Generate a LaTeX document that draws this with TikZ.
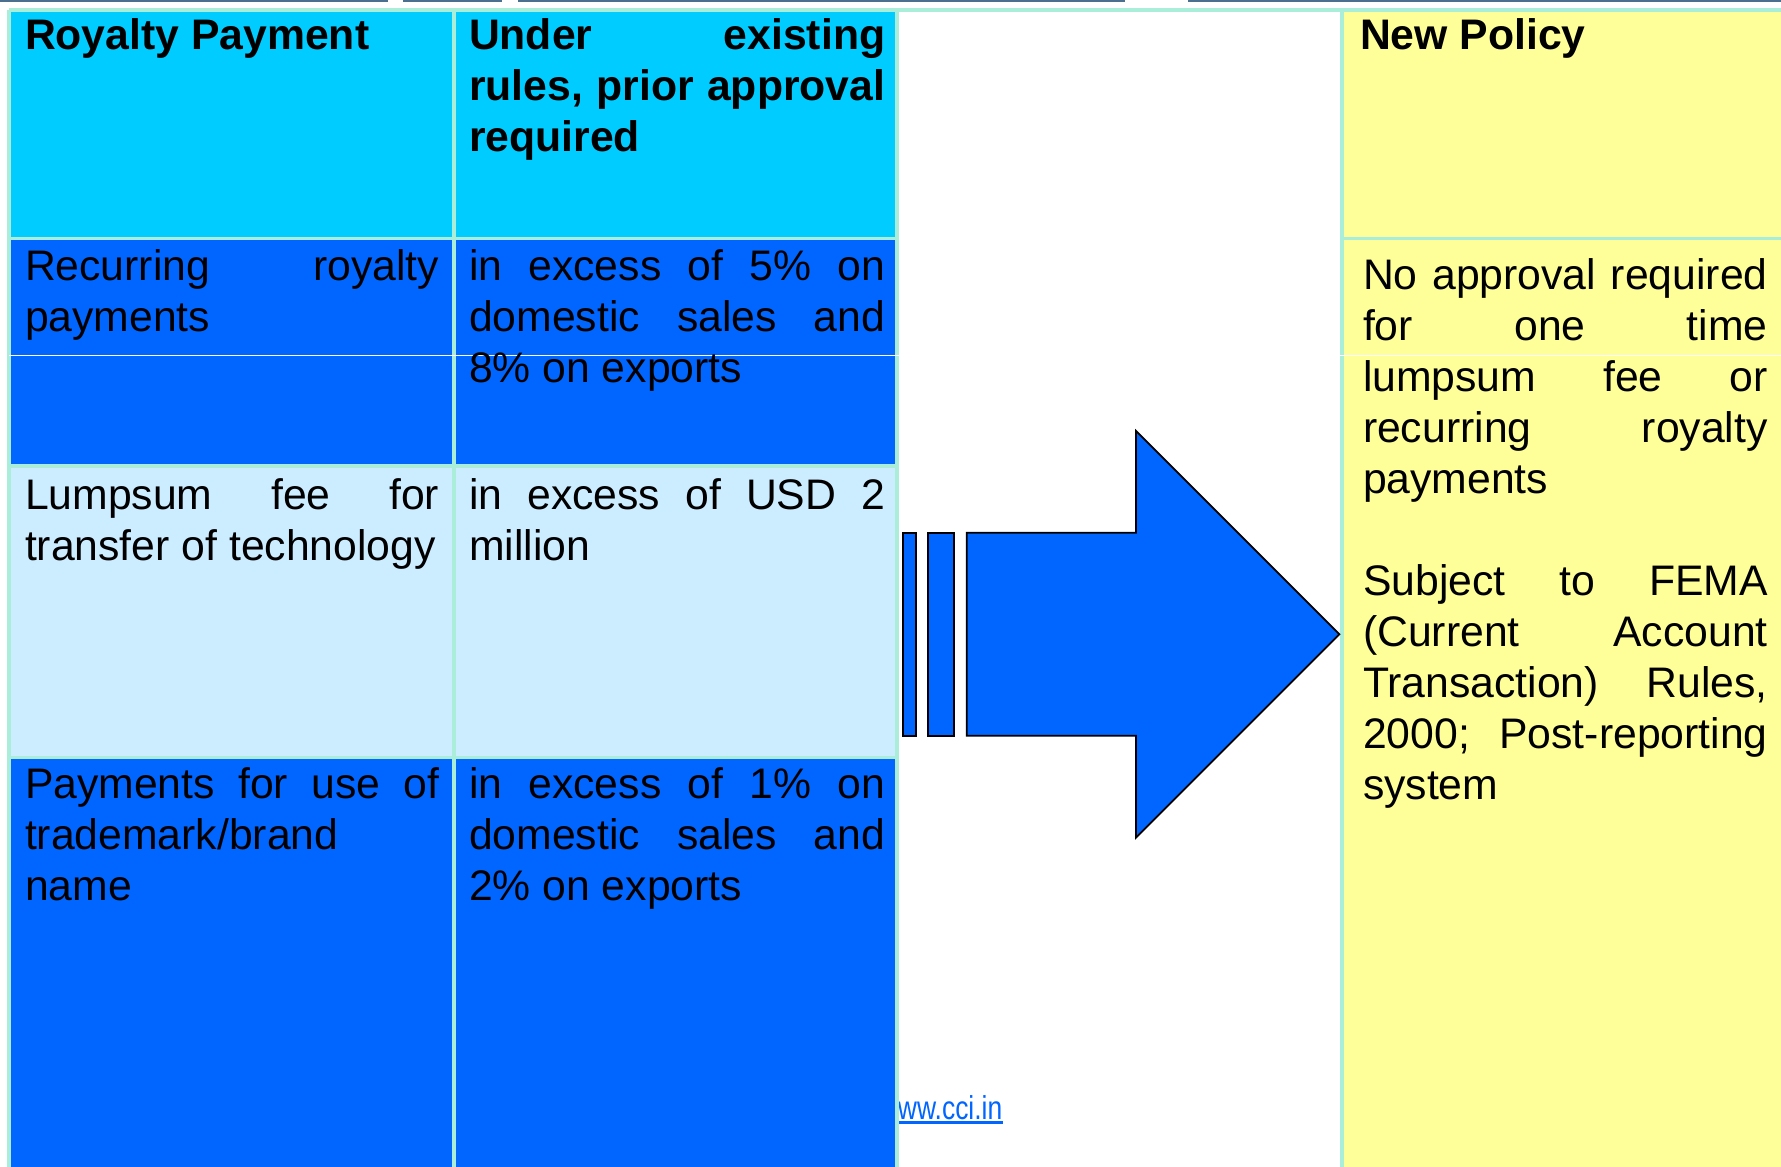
\documentclass[tikz,border=0pt]{standalone}
\usepackage{fontspec}
\setmainfont{Liberation Sans}
\usepackage{graphicx}
\usetikzlibrary{calc}

\definecolor{headcyan}{HTML}{00CCFF}
\definecolor{rowblue}{HTML}{0066FF}
\definecolor{rowpale}{HTML}{CCECFF}
\definecolor{policyyellow}{HTML}{FFFF99}
\definecolor{gridmint}{HTML}{AAEED9}
\definecolor{topslate}{HTML}{4A6F8F}

\def\cellfill[#1](#2)(#3){\fill[#1] (#2) rectangle (#3);}
\newcommand\celltext{\fontsize{12.15}{14.5}\selectfont\hyphenpenalty=10000\exhyphenpenalty=10000\tolerance=10000\relax}

\tikzset{
  grid line/.style={gridmint, line width=0.9pt},
  arrow part/.style={fill=rowblue, draw=black, line width=0.5pt},
  cell text/.style={anchor=north west, inner sep=0pt, align=justify, font=\celltext, execute at begin node=\strut},
}

\begin{document}
\begin{tikzpicture}[x=0.01cm, y=-0.01cm]
		%%%%% START %%%%%
		\useasboundingbox (0,0) rectangle (1781,1167);
		
		\draw[topslate, line width=0.7pt] (0,1) -- (388,1) (403,1) -- (502,1) (518,1) -- (1125,1) (1188,1) -- (1781,1);
		
		% web address, half hidden behind the table
		\node[anchor=base east, inner sep=0pt, text=rowblue, font=\fontsize{9.4}{11}\selectfont] (link) at (1003,1119) {\scalebox{0.8}[1]{www.cci.in}};
		\draw[rowblue, line width=0.7pt] ($(link.base west)+(0,3.7)$) -- ($(link.base east)+(0,3.7)$);
		
		\cellfill[headcyan](9,10)(897,238.5)
		\cellfill[rowblue](9,238.5)(897,466)
		\cellfill[rowpale](9,466)(897,757.6)
		\cellfill[rowblue](9,757.6)(897,1167)
		\cellfill[policyyellow](1342,10)(1781,1167)
		
		\draw[grid line] (9,10) -- (1781,10);
		\draw[grid line] (9,238.5) -- (897,238.5) (1342,238.5) -- (1781,238.5);
		\draw[grid line] (9,466) -- (897,466);
		\draw[grid line] (9,757.6) -- (897,757.6);
		\foreach \x in {9,454,897,1342} \draw[grid line] (\x,10) -- (\x,1167);
		
		\draw[white, line width=0.45pt] (9,355.5) -- (1781,355.5);
		
		% arrow
		\draw[arrow part] (902.7,532.7) rectangle (916,735.7);
		\draw[arrow part] (928.3,532.7) rectangle (954,735.7);
		\draw[arrow part] (966.7,532.7) -- (1136,532.7) -- (1136,431) -- (1339.3,634.3) -- (1136,837.7) -- (1136,735.7) -- (966.7,735.7) -- cycle;
		
		% left table
		\node[cell text, text width=4.14cm, font=\celltext\bfseries] (royaltyHead) at (24.3,13.5) {Royalty Payment};
		\node[cell text, text width=4.16cm, font=\celltext\bfseries] (existingHead) at (468.3,13.5) {Under existing\linebreak rules, prior approval\linebreak required};
		
		\node[cell text, text width=4.14cm] (recurName) at (24.3,244.2) {Recurring royalty\linebreak payments};
		\node[cell text, text width=4.16cm] (recurLimit) at (468.3,244.2) {in excess of 5\% on\linebreak domestic sales and\linebreak 8\% on exports};
		
		\node[cell text, text width=4.14cm] (lumpName) at (24.3,473.5) {Lumpsum fee for\linebreak transfer of technology};
		\node[cell text, text width=4.16cm] (lumpLimit) at (468.3,473.5) {in excess of USD 2\linebreak million};
		
		\node[cell text, text width=4.14cm] (brandName) at (24.3,762.5) {Payments for use of\linebreak trademark/brand\linebreak name};
		\node[cell text, text width=4.16cm] (brandLimit) at (468.3,762.5) {in excess of 1\% on\linebreak domestic sales and\linebreak 2\% on exports};
		
		% new policy
		\node[cell text, text width=4.045cm, font=\celltext\bfseries] (policyHead) at (1359.3,13.5) {New Policy};
		\node[cell text, text width=4.045cm] (policyText) at (1362.3,253.5) {No approval required\linebreak for one time\linebreak lumpsum fee or\linebreak recurring royalty\linebreak payments\par\vspace{14.5pt}Subject to FEMA\linebreak (Current Account\linebreak Transaction) Rules,\linebreak 2000; Post-reporting\linebreak system};
		
		%%%%% END %%%%%
	\end{tikzpicture}
\end{document}
